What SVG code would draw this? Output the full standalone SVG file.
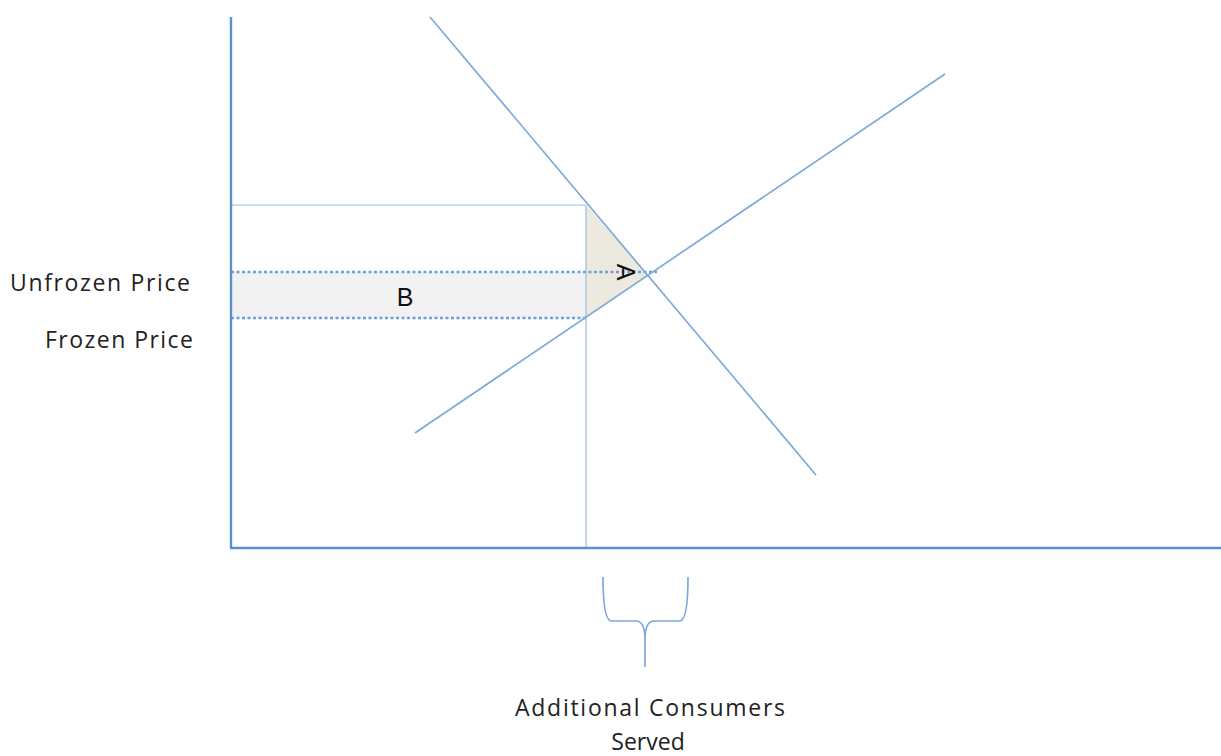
<svg xmlns="http://www.w3.org/2000/svg" width="1221" height="756" viewBox="0 0 1221 756">
<style>
.ln{stroke:#7FA9D8;stroke-width:1.7;fill:none}
.thin{stroke:#9DBDE2;stroke-width:1.2;fill:none}
.dot{stroke:#6E9FD6;stroke-width:2.6;stroke-dasharray:3 2.5;fill:none}
.ax{stroke:#5A8FCF;stroke-width:2.4;fill:none}
.lbl{font-family:"Open Sans","Liberation Sans",sans-serif;font-size:23px;fill:#222}
</style>
<rect width="1221" height="756" fill="#fff"/>
<g id="areas">
<rect id="areaB" x="231" y="272" width="355" height="46" fill="#F2F2F2"/>
<polygon id="areaA" points="586,205 648,275 586,318" fill="#ECE9DE"/>
</g>
<g id="connectors">
<line class="thin" x1="231" y1="205" x2="586" y2="205"/>
<line class="thin" x1="586" y1="205" x2="586" y2="548"/>
<line class="dot" x1="231" y1="272" x2="657" y2="272"/>
<line class="dot" x1="231" y1="318" x2="586" y2="318"/>
<line id="demand" class="ln" x1="430" y1="17" x2="816" y2="475"/>
<line id="supply" class="ln" x1="415" y1="433" x2="945" y2="74"/>
<line class="ax" x1="231" y1="17" x2="231" y2="548"/>
<line class="ax" x1="230" y1="548" x2="1221" y2="548"/>
<path class="ln" stroke-width="2.4" d="M603,577 C603,600 605,620 611,621 L636,621 C642,621 645,628 645,640 L645,667 M645,640 C645,628 648,621 654,621 L680,621 C686,620 688,600 688,577"/>
</g>
<g id="labels">
<text class="lbl" x="10" y="291" textLength="180">Unfrozen Price</text>
<text class="lbl" x="45" y="348" textLength="148">Frozen Price</text>
<text class="lbl" x="515" y="716" textLength="270">Additional Consumers</text>
<text class="lbl" x="648" y="750" text-anchor="middle">Served</text>
<text x="405" y="306" font-family="Liberation Sans,Arial,sans-serif" font-size="25" fill="#111" text-anchor="middle">B</text>
<text x="626" y="272" font-family="Liberation Sans,Arial,sans-serif" font-size="25" fill="#111" text-anchor="middle" transform="rotate(90 626 272)" dy="9">A</text>
</g>
</svg>
